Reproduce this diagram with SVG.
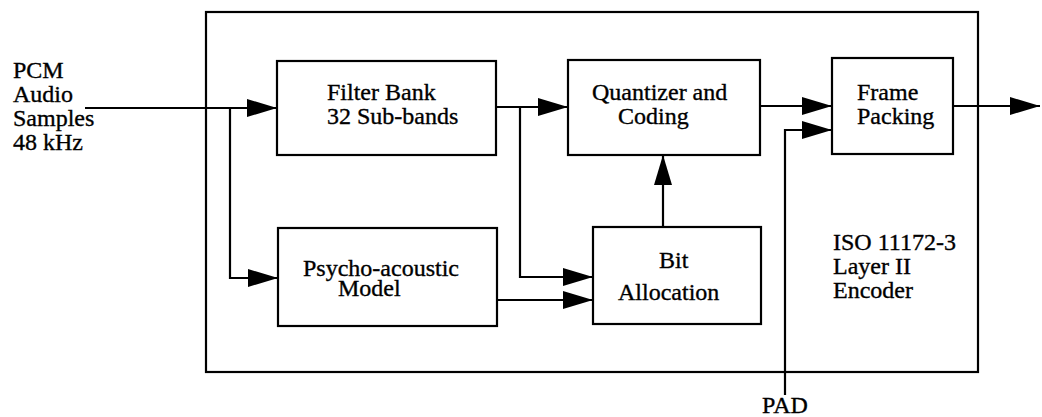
<svg xmlns="http://www.w3.org/2000/svg" width="1042" height="417" viewBox="0 0 1042 417">
  <style>
    .box { fill: none; stroke: #000; stroke-width: 2.2; }
    .wire { fill: none; stroke: #000; stroke-width: 2.2; }
    text { font-family: "Liberation Serif", "Times New Roman", serif; font-size: 24px; fill: #000; stroke: #000; stroke-width: 0.35; }
  </style>
  <defs>
    <marker id="arrow" markerUnits="userSpaceOnUse" markerWidth="32" markerHeight="20" refX="30" refY="9" orient="auto">
      <path d="M0,0 L30,9 L0,18 Z" fill="#000"/>
    </marker>
  </defs>
  <rect width="1042" height="417" fill="#fff"/>

  <!-- encoder enclosure -->
  <g id="encoder">
    <rect class="box" x="206" y="12" width="772" height="360"/>
    <text x="833" y="250">ISO 11172-3</text>
    <text x="833" y="274">Layer II</text>
    <text x="833" y="298">Encoder</text>
  </g>

  <!-- input label -->
  <g id="input">
    <text x="13" y="78">PCM</text>
    <text x="13" y="102">Audio</text>
    <text x="13" y="126">Samples</text>
    <text x="13" y="150">48 kHz</text>
  </g>

  <g id="filter-bank">
    <rect class="box" x="277" y="61" width="219" height="94"/>
    <text x="327" y="100">Filter Bank</text>
    <text x="327" y="124">32 Sub-bands</text>
  </g>

  <g id="quantizer">
    <rect class="box" x="568" y="60" width="192" height="95"/>
    <text x="592" y="100">Quantizer and</text>
    <text x="618" y="124">Coding</text>
  </g>

  <g id="frame-packing">
    <rect class="box" x="832" y="58" width="121" height="96"/>
    <text x="857" y="100">Frame</text>
    <text x="857" y="124">Packing</text>
  </g>

  <g id="psycho-acoustic">
    <rect class="box" x="278" y="228" width="219" height="98"/>
    <text x="303" y="276">Psycho-acoustic</text>
    <text x="338" y="296">Model</text>
  </g>

  <g id="bit-allocation">
    <rect class="box" x="593" y="227" width="168" height="97"/>
    <text x="659" y="268">Bit</text>
    <text x="618" y="300">Allocation</text>
  </g>

  <g id="pad">
    <text x="785" y="413" text-anchor="middle">PAD</text>
  </g>

  <!-- signal paths -->
  <g id="connectors">
    <path class="wire" d="M85,108 H277" marker-end="url(#arrow)"/>
    <path class="wire" d="M230,108 V278 H278" marker-end="url(#arrow)"/>
    <path class="wire" d="M496,107 H568" marker-end="url(#arrow)"/>
    <path class="wire" d="M520,107 V277 H593" marker-end="url(#arrow)"/>
    <path class="wire" d="M497,300 H593" marker-end="url(#arrow)"/>
    <path class="wire" d="M663,227 V155" marker-end="url(#arrow)"/>
    <path class="wire" d="M760,106 H832" marker-end="url(#arrow)"/>
    <path class="wire" d="M785,395 V130 H832" marker-end="url(#arrow)"/>
    <path class="wire" d="M953,106 H1040" marker-end="url(#arrow)"/>
  </g>
</svg>
